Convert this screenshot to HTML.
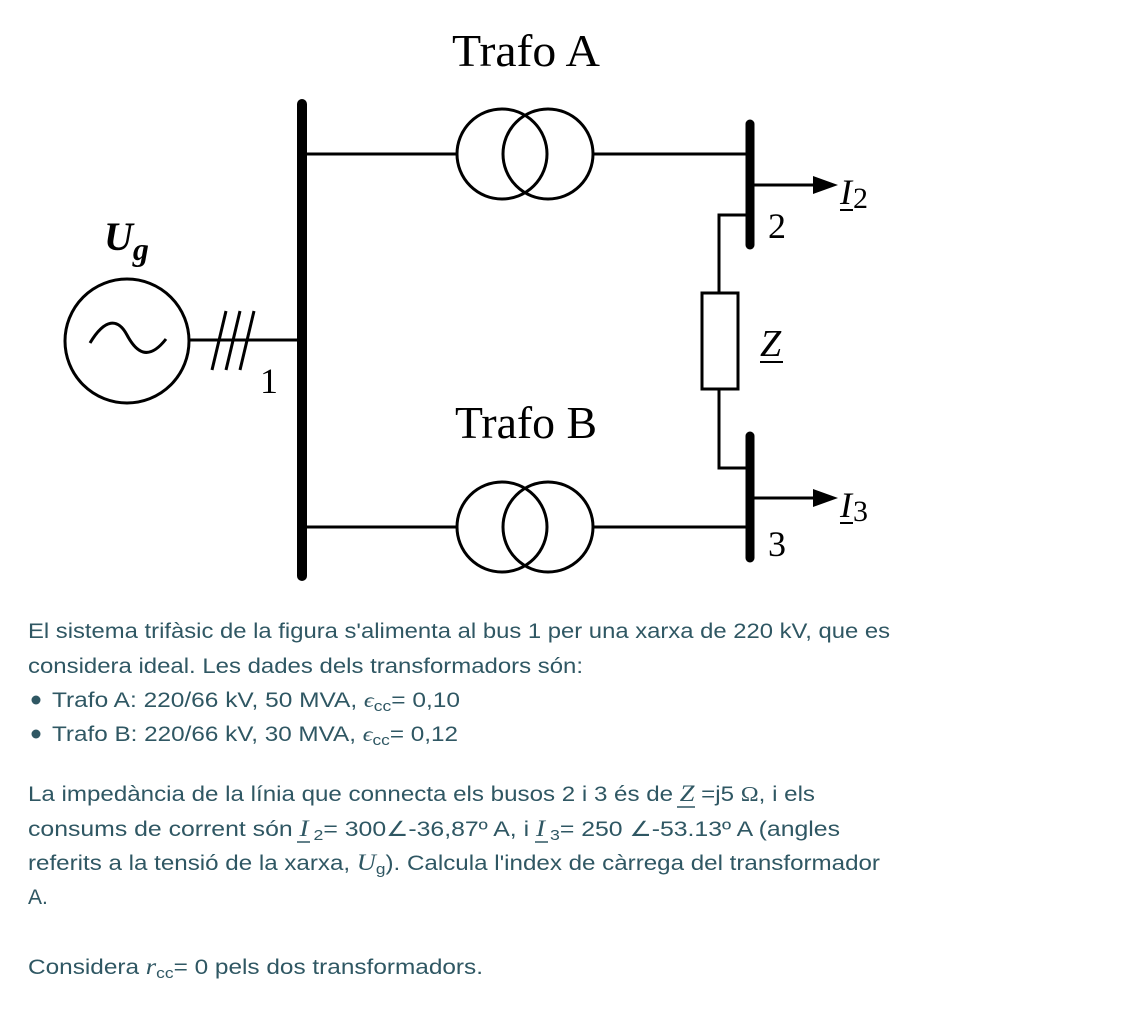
<!DOCTYPE html>
<html><head><meta charset="utf-8"><style>
html,body{margin:0;padding:0;background:#fff;}
svg{display:block}
</style></head><body>
<svg width="1123" height="1009" viewBox="0 0 1123 1009" xmlns="http://www.w3.org/2000/svg">
<g stroke="#000" fill="none" stroke-width="3">
<line x1="302" y1="104" x2="302" y2="576" stroke-width="10" stroke-linecap="round"/>
<line x1="302" y1="154" x2="457" y2="154"/>
<circle cx="502" cy="154" r="45"/>
<circle cx="548" cy="154" r="45"/>
<line x1="593" y1="154" x2="750" y2="154"/>
<line x1="302" y1="527" x2="457" y2="527"/>
<circle cx="502" cy="527" r="45"/>
<circle cx="548" cy="527" r="45"/>
<line x1="593" y1="527" x2="750" y2="527"/>
<line x1="750" y1="124" x2="750" y2="245" stroke-width="9" stroke-linecap="round"/>
<line x1="750" y1="436" x2="750" y2="558" stroke-width="9" stroke-linecap="round"/>
<polyline points="750,215 719,215 719,293"/>
<rect x="702" y="293" width="36" height="96"/>
<polyline points="719,389 719,468 750,468"/>
<line x1="752" y1="185" x2="815" y2="185"/>
<line x1="752" y1="498" x2="815" y2="498"/>
<circle cx="127" cy="341" r="62"/>
<path d="M90,343 C105,318 118,318 127,335 C136,352 148,362 166,339"/>
<line x1="189" y1="340" x2="302" y2="340"/>
<line x1="212" y1="370" x2="226" y2="311"/>
<line x1="226" y1="370" x2="240" y2="311"/>
<line x1="240" y1="370" x2="254" y2="311"/>
</g>
<polygon points="813,176 838,185 813,194" fill="#000"/>
<polygon points="813,489 838,498 813,507" fill="#000"/>
<g font-family="Liberation Serif, serif" fill="#000">
<text x="452" y="66" font-size="46" textLength="148" lengthAdjust="spacingAndGlyphs">Trafo A</text>
<text x="455" y="438" font-size="46" textLength="142" lengthAdjust="spacingAndGlyphs">Trafo B</text>
<text x="104" y="250" font-size="40" font-style="italic" font-weight="bold">U<tspan font-size="32" dy="10">g</tspan></text>
<text x="260" y="393" font-size="36">1</text>
<text x="768" y="238" font-size="36">2</text>
<text x="768" y="556" font-size="36">3</text>
<text x="760" y="356" font-size="38" font-style="italic">Z</text>
<line x1="760" y1="362" x2="783" y2="362" stroke="#000" stroke-width="2"/>
<text x="840" y="204" font-size="36" font-style="italic">I</text>
<text x="853" y="208" font-size="30">2</text>
<line x1="840" y1="210" x2="853" y2="210" stroke="#000" stroke-width="2"/>
<text x="840" y="517" font-size="36" font-style="italic">I</text>
<text x="853" y="521" font-size="30">3</text>
<line x1="840" y1="523" x2="853" y2="523" stroke="#000" stroke-width="2"/>
</g>
<g font-family="Liberation Sans, sans-serif" font-size="21" fill="#2f5763">
<text x="28" y="638" textLength="862" lengthAdjust="spacingAndGlyphs">El sistema trifàsic de la figura s'alimenta al bus 1 per una xarxa de 220 kV, que es</text>
<text x="28" y="673" textLength="555" lengthAdjust="spacingAndGlyphs">considera ideal. Les dades dels transformadors són:</text>
<circle cx="36" cy="700" r="4.5"/>
<circle cx="36" cy="734" r="4.5"/>
<text x="52" y="707" textLength="408" lengthAdjust="spacingAndGlyphs">Trafo A: 220/66 kV, 50 MVA, <tspan font-family="Liberation Serif, serif" font-style="italic">ϵ</tspan><tspan font-size="15" dy="4">cc</tspan><tspan dy="-4">= 0,10</tspan></text>
<text x="52" y="741" textLength="406" lengthAdjust="spacingAndGlyphs">Trafo B: 220/66 kV, 30 MVA, <tspan font-family="Liberation Serif, serif" font-style="italic">ϵ</tspan><tspan font-size="15" dy="4">cc</tspan><tspan dy="-4">= 0,12</tspan></text>
<text x="28" y="801" textLength="787" lengthAdjust="spacingAndGlyphs">La impedància de la línia que connecta els busos 2 i 3 és de <tspan font-family="Liberation Serif, serif" font-style="italic" font-size="23">Z</tspan> =j5 <tspan font-family="Liberation Serif, serif">Ω</tspan>, i els</text>
<line x1="677" y1="807" x2="695" y2="807" stroke="#2f5763" stroke-width="1.5"/>
<text x="28" y="836" textLength="812" lengthAdjust="spacingAndGlyphs">consums de corrent són <tspan font-family="Liberation Serif, serif" font-style="italic" font-size="23">I</tspan><tspan font-size="15" dy="4"> 2</tspan><tspan dy="-4">= 300∠-36,87º A, i </tspan><tspan font-family="Liberation Serif, serif" font-style="italic" font-size="23">I</tspan><tspan font-size="15" dy="4"> 3</tspan><tspan dy="-4">= 250 ∠-53.13º A (angles</tspan></text>
<line x1="297" y1="842" x2="310" y2="842" stroke="#2f5763" stroke-width="1.5"/>
<line x1="535" y1="842" x2="548" y2="842" stroke="#2f5763" stroke-width="1.5"/>
<text x="28" y="870" textLength="852" lengthAdjust="spacingAndGlyphs">referits a la tensió de la xarxa, <tspan font-family="Liberation Serif, serif" font-style="italic" font-size="23">U</tspan><tspan font-size="15" dy="4">g</tspan><tspan dy="-4">). Calcula l'index de càrrega del transformador</tspan></text>
<text x="28" y="904">A.</text>
<text x="28" y="974" textLength="455" lengthAdjust="spacingAndGlyphs">Considera <tspan font-family="Liberation Serif, serif" font-style="italic" font-size="23">r</tspan><tspan font-size="15" dy="4">cc</tspan><tspan dy="-4">= 0 pels dos transformadors.</tspan></text>
</g>
</svg>
</body></html>
